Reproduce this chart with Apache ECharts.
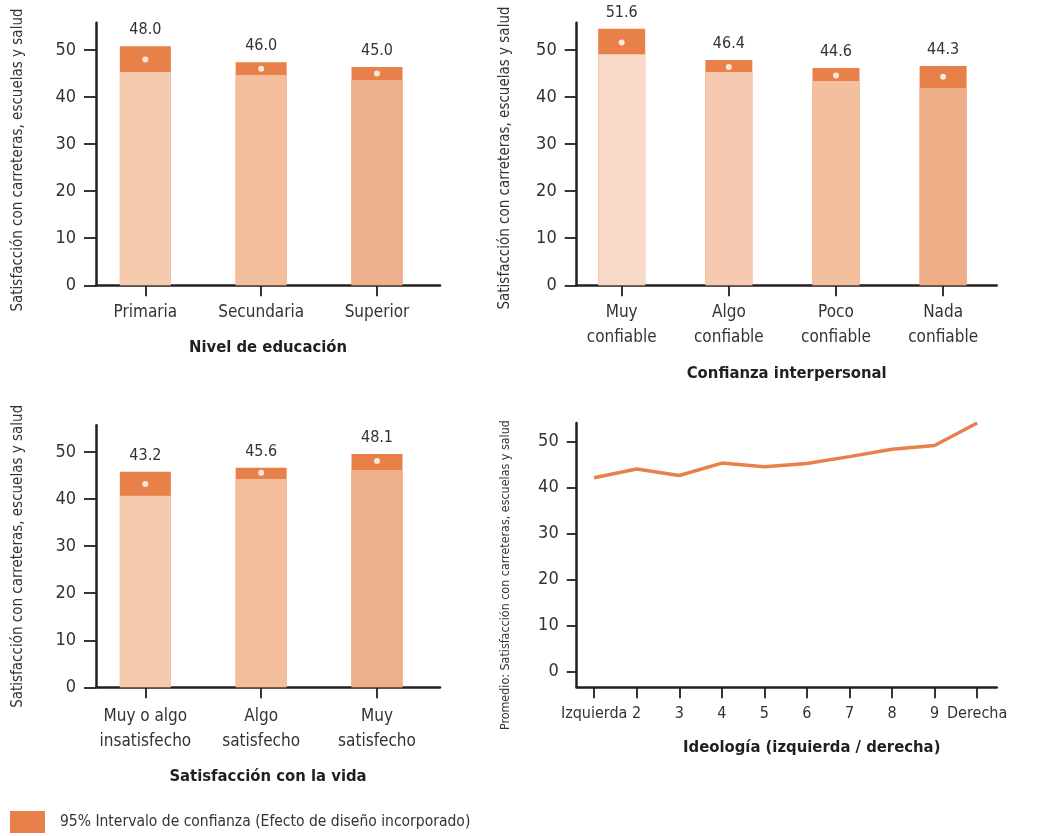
<!DOCTYPE html>
<html><head><meta charset="utf-8">
<script src="https://cdn.jsdelivr.net/npm/echarts@6/dist/echarts.min.js"></script>
<style>html,body{margin:0;padding:0;background:#fff}#c{width:1060px;height:836px}</style>
</head><body><div id="c"></div>
<script>
// ---- data ----
const eduCats = ['Primaria', 'Secundaria', 'Superior'];
const eduMean = [48.0, 46.0, 45.0];
const eduLow = [45.3, 44.7, 43.6];
const eduHigh = [50.8, 47.4, 46.4];

const trustCats = ['Muy\nconfiable', 'Algo\nconfiable', 'Poco\nconfiable', 'Nada\nconfiable'];
const trustMean = [51.6, 46.4, 44.6, 44.3];
const trustLow = [49.1, 45.3, 43.4, 41.9];
const trustHigh = [54.5, 47.9, 46.2, 46.6];

const lifeCats = ['Muy o algo\ninsatisfecho', 'Algo\nsatisfecho', 'Muy\nsatisfecho'];
const lifeMean = [43.2, 45.6, 48.1];
const lifeLow = [40.7, 44.3, 46.2];
const lifeHigh = [45.8, 46.7, 49.6];

const ideoCats = ['Izquierda', '2', '3', '4', '5', '6', '7', '8', '9', 'Derecha'];
const ideoMean = [42.1, 44.0, 42.6, 45.3, 44.5, 45.2, 46.7, 48.3, 49.1, 54.0];

const yTicks = [0, 10, 20, 30, 40, 50];
const ciName = '95% Intervalo de confianza (Efecto de diseño incorporado)';

// ---- styles ----
const FONT = "'DejaVu Sans Condensed', 'Liberation Sans Narrow', sans-serif";
const CI_COLOR = '#E8804A';
const AXIS_COLOR = '#231F20';
const TEXT_COLOR = '#333333';
const eduColors = ['#F5CBB0', '#F2BE9C', '#EEB08A'];
const trustColors = ['#F8D9C5', '#F5CAB0', '#F2BF9F', '#EDAE88'];
const lifeColors = ['#F5CBB0', '#F2BE9C', '#EEB08A'];

const grids = [
  { left: 96, top: 22.7, width: 344, height: 262.6, outerBoundsMode: 'none', containLabel: false },
  { left: 576.7, top: 22.7, width: 420, height: 262.6, outerBoundsMode: 'none', containLabel: false },
  { left: 96, top: 425.3, width: 344, height: 262, outerBoundsMode: 'none', containLabel: false },
  { left: 576.7, top: 423, width: 420, height: 264.3, outerBoundsMode: 'none', containLabel: false }
];

const idx = n => Array.from({ length: n }, (_, i) => i);

function xAxisCfg(gi, cats, min, max, name, nameGap, labelMargin, lineH, labelSize, namePad) {
  return {
    type: 'value', gridIndex: gi, min: min, max: max,
    name: name, nameLocation: 'middle', nameGap: nameGap,
    nameTextStyle: { fontFamily: FONT, fontSize: 16.5, fontWeight: 'bold', color: AXIS_COLOR, padding: namePad || 0 },
    axisLine: { show: true, onZero: false, lineStyle: { color: AXIS_COLOR, width: 2.5 } },
    axisTick: { show: true, length: 11, lineStyle: { color: AXIS_COLOR, width: 1.8 }, customValues: idx(cats.length) },
    axisLabel: {
      customValues: idx(cats.length), margin: labelMargin,
      showMinLabel: true, showMaxLabel: true, hideOverlap: false,
      fontFamily: FONT, fontSize: labelSize, lineHeight: lineH, color: TEXT_COLOR,
      formatter: v => cats[Math.round(v)] || ''
    },
    splitLine: { show: false }
  };
}

function yAxisCfg(gi, min, max, name, nameGap, nameSize, namePad, tickLen, labelMargin) {
  return {
    type: 'value', gridIndex: gi, min: min, max: max,
    name: name, nameLocation: 'middle', nameGap: nameGap,
    nameTextStyle: { fontFamily: FONT, fontSize: nameSize, color: TEXT_COLOR, padding: namePad },
    axisLine: { show: true, onZero: false, lineStyle: { color: AXIS_COLOR, width: 2.5 } },
    axisTick: { show: true, length: tickLen, lineStyle: { color: AXIS_COLOR, width: 1.8 }, customValues: yTicks },
    axisLabel: { customValues: yTicks, margin: labelMargin, fontFamily: FONT, fontSize: 18, color: TEXT_COLOR },
    splitLine: { show: false }
  };
}

function barSeries(gi, low, high, mean, colors, barWidth, seriesName) {
  return [
    {
      name: seriesName, type: 'bar', xAxisIndex: gi, yAxisIndex: gi,
      barWidth: barWidth, barGap: '-100%',
      itemStyle: { color: CI_COLOR },
      data: high.map((v, i) => [i, v]),
      label: {
        show: true, position: 'top', distance: 8,
        fontFamily: FONT, fontSize: 16, color: TEXT_COLOR,
        formatter: p => mean[p.dataIndex].toFixed(1)
      },
      z: 2
    },
    {
      name: 'base' + gi, type: 'bar', xAxisIndex: gi, yAxisIndex: gi,
      barWidth: barWidth, barGap: '-100%',
      data: low.map((v, i) => ({ value: [i, v], itemStyle: { color: colors[i] } })),
      z: 3
    },
    {
      name: 'mean' + gi, type: 'scatter', xAxisIndex: gi, yAxisIndex: gi,
      symbol: 'circle', symbolSize: 6,
      itemStyle: { color: '#FFFFFF' },
      data: mean.map((v, i) => [i, v]),
      z: 5
    }
  ];
}

const yName = 'Satisfacción con carreteras, escuelas y salud';

const option = {
  backgroundColor: '#FFFFFF',
  animation: false,
  grid: grids,
  legend: {
    data: [ciName], left: 10, top: 811, padding: 0,
    itemWidth: 35, itemHeight: 22, icon: 'rect',
    textStyle: { fontFamily: FONT, fontSize: 15.5, color: TEXT_COLOR, padding: [0, 0, 0, 10] }
  },
  xAxis: [
    xAxisCfg(0, eduCats, -0.426, 2.544, 'Nivel de educación', 54, 15, 24, 17),
    xAxisCfg(1, trustCats, -0.42, 3.50, 'Confianza interpersonal', 80, 15, 25, 17),
    xAxisCfg(2, lifeCats, -0.426, 2.544, 'Satisfacción con la vida', 81, 17, 25, 17),
    xAxisCfg(3, ideoCats, -0.41, 9.46, 'Ideología (izquierda / derecha)', 52, 15, 24, 16, [0, 0, 0, 50])
  ],
  yAxis: [
    yAxisCfg(0, 0, 55.8, yName, 70, 15, [0, 12, 0, 0], 12, 20),
    yAxisCfg(1, 0, 55.8, yName, 64, 15, [0, 8, 0, 0], 12, 20),
    yAxisCfg(2, 0, 55.7, yName, 70, 15, 0, 12, 20),
    yAxisCfg(3, -3.4, 54, 'Promedio: Satisfacción con carreteras, escuelas y salud', 65, 12.4, [0, 40, 0, 0], 10, 18)
  ],
  series: [
    ...barSeries(0, eduLow, eduHigh, eduMean, eduColors, 51, ciName),
    ...barSeries(1, trustLow, trustHigh, trustMean, trustColors, 47, ciName),
    ...barSeries(2, lifeLow, lifeHigh, lifeMean, lifeColors, 51, ciName),
    {
      name: 'ideologia', type: 'line', xAxisIndex: 3, yAxisIndex: 3,
      showSymbol: false, symbol: 'none',
      lineStyle: { color: CI_COLOR, width: 3.5 },
      data: ideoMean.map((v, i) => [i, v])
    }
  ]
};

const chart = echarts.init(document.getElementById('c'), null, { renderer: 'canvas' });
chart.setOption(option);
</script>
</body></html>
